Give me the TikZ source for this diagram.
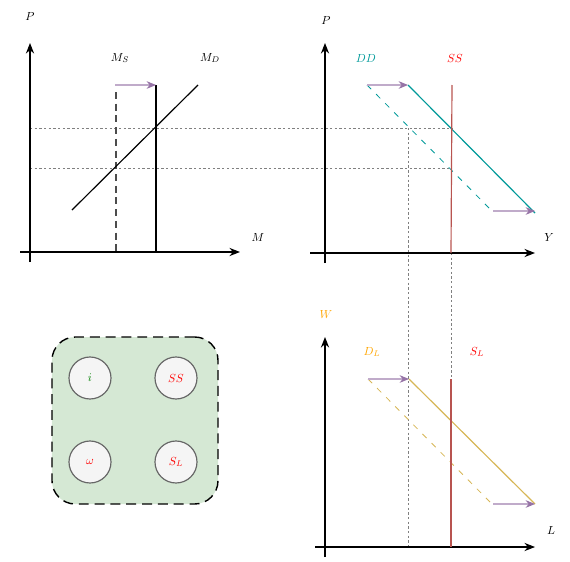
\documentclass[tikz,border=0pt]{standalone}
\usepackage{amsmath,amssymb}
\usetikzlibrary{positioning,arrows.meta}

\definecolor{shiftpurple}{HTML}{9673A6}
\definecolor{ddteal}{HTML}{009999}
\definecolor{ssred}{HTML}{B85450}
\definecolor{dlgold}{HTML}{D6B656}
\definecolor{lblorange}{HTML}{FFA500}
\definecolor{boxgreen}{HTML}{D5E8D4}

\begin{document}
\begin{tikzpicture}[
  x=0.03cm, y=-0.03cm,
  axis/.style={-{Stealth[length=9pt, width=7pt]}, line width=1pt},
  shiftarr/.style={-{Stealth[length=8pt, width=6.5pt, color=shiftpurple]}, draw=shiftpurple!60,
                   line width=1pt},
  guide/.style={draw=gray, dash pattern=on 2pt off 2pt, line width=0.6pt},
  curve/.style={line width=1pt},
  lbl/.style={font=\normalsize, inner sep=1pt},
  var/.style={circle, draw=black!60, line width=1pt, fill=black!4, minimum size=1.26cm,
              font=\normalsize, inner sep=0pt},
  legend/.style={rectangle, draw, fill=boxgreen, rounded corners=0.7cm, line width=1.2pt,
                 dash pattern=on 8.5pt off 5pt, minimum width=4.98cm, minimum height=5.01cm},
]
  \useasboundingbox (0,0) rectangle (570,561);

  % Money market (top left)
  \coordinate (mytop) at (30,43);
  \coordinate (mybot) at (30,262);
  \coordinate (mxl) at (20,252);
  \coordinate (mxr) at (240,252);
  \coordinate (msarr) at (115,85);
  \coordinate (msold) at (116,92);
  \coordinate (msoldb) at (116,252);
  \coordinate (msnew) at (156,85);
  \coordinate (msnewb) at (156,252);
  \coordinate (mdlo) at (72,210);
  \coordinate (mdhi) at (198,85);
  \node[lbl] (pm) at (30,16) {$P$};
  \node[lbl] (mm) at (258,237) {$M$};
  \node[lbl] (lms) at (120,58) {$M_S$};
  \node[lbl] (lmd) at (210,58) {$M_D$};

  % Goods market (top right)
  \coordinate (gytop) at (325,43);
  \coordinate (gybot) at (325,263);
  \coordinate (gxl) at (310,253);
  \coordinate (gxr) at (535,253);
  \coordinate (ddold) at (367,85);
  \coordinate (ddoldb) at (492,211);
  \coordinate (ddnew) at (408,85);
  \coordinate (ddnewb) at (535,213);
  \coordinate (ddsh) at (493,211);
  \coordinate (ddarr) at (535,211);
  \coordinate (sstop) at (452,85);
  \coordinate (ssbot) at (451,253);
  \node[lbl] (pg) at (326,20) {$P$};
  \node[lbl] (yg) at (549,237) {$Y$};
  \node[lbl, text=ddteal] (ldd) at (366,58) {$DD$};
  \node[lbl, text=red] (lss) at (455,58) {$SS$};

  % Labour market (bottom right)
  \coordinate (lytop) at (325,337);
  \coordinate (lybot) at (325,557);
  \coordinate (lxl) at (315,547);
  \coordinate (lxr) at (535,547);
  \coordinate (dlold) at (368,379);
  \coordinate (dloldb) at (492,504);
  \coordinate (dlnew) at (409,379);
  \coordinate (dlnewb) at (535,504);
  \coordinate (dlsh) at (493,504);
  \coordinate (sltop) at (451,379);
  \coordinate (slbot) at (451,547);
  \node[lbl, text=lblorange] (wl) at (326,314) {$W$};
  \node[lbl] (ll) at (551,530) {$L$};
  \node[lbl, text=lblorange] (ldl) at (372,352) {$D_L$};
  \node[lbl, text=red] (lsl) at (477,352) {$S_L$};

  % Guide lines
  \coordinate (h1l) at (30,128);
  \coordinate (h1r) at (452,128);
  \coordinate (h2l) at (30,168);
  \coordinate (h2r) at (450,168);
  \coordinate (v1t) at (408,128);
  \coordinate (v1b) at (408,547);
  \draw[guide] (h1l) -- (h1r);
  \draw[guide] (h2l) -- (h2r);
  \draw[guide] (v1t) -- (v1b);
  \draw[guide] (ssbot) -- (sltop);

  % Axes
  \draw[axis] (mybot) -- (mytop);
  \draw[axis] (mxl) -- (mxr);
  \draw[axis] (gybot) -- (gytop);
  \draw[axis] (gxl) -- (gxr);
  \draw[axis] (lybot) -- (lytop);
  \draw[axis] (lxl) -- (lxr);

  % Curves
  \draw[curve, black!70, dash pattern=on 6pt off 4pt] (msold) -- (msoldb);
  \draw[curve] (msnew) -- (msnewb);
  \draw[curve] (mdlo) -- (mdhi);
  \draw[curve, ddteal, dash pattern=on 5pt off 6pt, line width=0.7pt] (ddold) -- (ddoldb);
  \draw[curve, ddteal] (ddnew) -- (ddnewb);
  \draw[curve, ssred] (sstop) -- (ssbot);
  \draw[curve, dlgold, dash pattern=on 5pt off 6pt, line width=0.7pt] (dlold) -- (dloldb);
  \draw[curve, dlgold] (dlnew) -- (dlnewb);
  \draw[curve, ssred] (sltop) -- (slbot);

  % Shifts
  \draw[shiftarr] (msarr) -- (msnew);
  \draw[shiftarr] (ddold) -- (ddnew);
  \draw[shiftarr] (ddsh) -- (ddarr);
  \draw[shiftarr] (dlold) -- (dlnew);
  \draw[shiftarr] (dlsh) -- (dlnewb);

  % Legend box
  \node[legend] (box) at (135,420.5) {};
  \node[var, text=green!50!black] (vi) at (90,378) {$i$};
  \node[var, text=red] (vss) at (176,378) {$SS$};
  \node[var, text=red] (vw) at (90,462) {$\omega$};
  \node[var, text=red] (vsl) at (176,462) {$S_L$};
\end{tikzpicture}
\end{document}
